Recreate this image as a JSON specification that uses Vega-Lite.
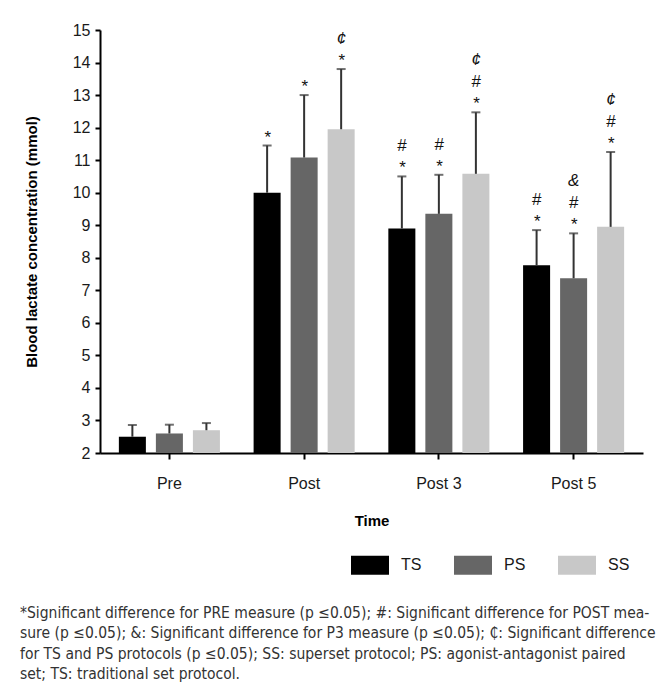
{
  "$schema": "https://vega.github.io/schema/vega-lite/v6.json",
  "autosize": "none",
  "padding": {"left": 100, "top": 30, "right": 27, "bottom": 237},
  "width": 543,
  "height": 423,
  "background": "white",
  "title": {
    "text": [
      "*Significant difference for PRE measure (p ≤0.05); #: Significant difference for POST mea-",
      "sure (p ≤0.05); &: Significant difference for P3 measure (p ≤0.05); ₵: Significant difference",
      "for TS and PS protocols (p ≤0.05); SS: superset protocol; PS: agonist-antagonist paired",
      "set; TS: traditional set protocol."
    ],
    "orient": "bottom",
    "anchor": "start",
    "frame": "group",
    "dx": -80,
    "offset": 31,
    "font": "DejaVu Sans Condensed",
    "fontSize": 15.5,
    "fontWeight": "normal",
    "color": "#333333",
    "lineHeight": 20.3,
    "align": "left"
  },
  "data": {
    "values": [
      {"time": "Pre", "group": "TS", "value": 2.5, "err": 2.86, "label": ""},
      {"time": "Pre", "group": "PS", "value": 2.6, "err": 2.87, "label": ""},
      {"time": "Pre", "group": "SS", "value": 2.7, "err": 2.92, "label": ""},
      {"time": "Post", "group": "TS", "value": 10.0, "err": 11.45, "label": "*"},
      {"time": "Post", "group": "PS", "value": 11.08, "err": 13.0, "label": "*"},
      {"time": "Post", "group": "SS", "value": 11.95, "err": 13.8, "label": "*\n¢"},
      {"time": "Post 3", "group": "TS", "value": 8.9, "err": 10.5, "label": "*\n#"},
      {"time": "Post 3", "group": "PS", "value": 9.35, "err": 10.55, "label": "*\n#"},
      {"time": "Post 3", "group": "SS", "value": 10.58, "err": 12.47, "label": "*\n#\n¢"},
      {"time": "Post 5", "group": "TS", "value": 7.77, "err": 8.85, "label": "*\n#"},
      {"time": "Post 5", "group": "PS", "value": 7.37, "err": 8.75, "label": "*\n#\n&"},
      {"time": "Post 5", "group": "SS", "value": 8.95, "err": 11.25, "label": "*\n#\n¢"}
    ]
  },
  "encoding": {
    "x": {
      "field": "time",
      "type": "nominal",
      "sort": ["Pre", "Post", "Post 3", "Post 5"],
      "scale": {"paddingInner": 0.25, "paddingOuter": 0.14},
      "axis": {
        "title": "Time",
        "labelAngle": 0,
        "labelFont": "Liberation Sans",
        "labelFontSize": 16,
        "labelColor": "#1a1a1a",
        "labelPadding": 16,
        "titleFont": "Liberation Sans",
        "titleFontSize": 15,
        "titleFontWeight": "bold",
        "titleColor": "#000000",
        "titlePadding": 22,
        "domainColor": "#000000",
        "domainWidth": 2,
        "tickColor": "#000000",
        "tickWidth": 2,
        "tickSize": 6,
        "grid": false
      }
    },
    "xOffset": {
      "field": "group",
      "type": "nominal",
      "sort": ["TS", "PS", "SS"],
      "scale": {"paddingInner": 0.27, "paddingOuter": 0}
    }
  },
  "layer": [
    {
      "mark": {"type": "bar"},
      "encoding": {
        "y": {
          "field": "value",
          "type": "quantitative",
          "scale": {"domain": [2, 15], "zero": false, "nice": false},
          "axis": {
            "title": "Blood lactate concentration (mmol)",
            "values": [2, 3, 4, 5, 6, 7, 8, 9, 10, 11, 12, 13, 14, 15],
            "labelOverlap": false,
            "labelFont": "Liberation Sans",
            "labelFontSize": 16,
            "labelColor": "#1a1a1a",
            "labelPadding": 5,
            "titleFont": "Liberation Sans",
            "titleFontSize": 15,
            "titleFontWeight": "bold",
            "titleColor": "#000000",
            "titlePadding": 33,
            "domainColor": "#000000",
            "domainWidth": 2,
            "tickColor": "#000000",
            "tickWidth": 2,
            "tickSize": 5,
            "grid": false
          }
        },
        "y2": {"datum": 2},
        "color": {
          "field": "group",
          "type": "nominal",
          "sort": ["TS", "PS", "SS"],
          "scale": {"domain": ["TS", "PS", "SS"], "range": ["#000000", "#666666", "#c8c8c8"]},
          "legend": {
            "title": null,
            "orient": "none",
            "direction": "horizontal",
            "legendX": 251,
            "legendY": 516,
            "padding": 0,
            "symbolType": "M-1,-0.5H1V0.5H-1Z",
            "symbolSize": 1444,
            "symbolStrokeWidth": 0,
            "symbolOpacity": 1,
            "labelFont": "Liberation Sans",
            "labelFontSize": 16,
            "labelColor": "#1a1a1a",
            "labelOffset": 12,
            "columnPadding": 32
          }
        }
      }
    },
    {
      "mark": {"type": "rule", "color": "#333333", "strokeWidth": 2},
      "encoding": {
        "y": {"field": "value", "type": "quantitative", "axis": null},
        "y2": {"field": "err"}
      }
    },
    {
      "mark": {"type": "tick", "color": "#333333", "thickness": 2, "size": 9, "orient": "horizontal"},
      "encoding": {
        "y": {"field": "err", "type": "quantitative", "axis": null}
      }
    },
    {
      "mark": {
        "type": "text",
        "baseline": "alphabetic",
        "align": "center",
        "lineBreak": "\n",
        "lineHeight": -22,
        "dy": -3,
        "font": "Liberation Sans",
        "fontStyle": "italic",
        "fontSize": 17,
        "color": "#111111"
      },
      "encoding": {
        "y": {"field": "err", "type": "quantitative", "axis": null},
        "text": {"field": "label"}
      }
    }
  ],
  "resolve": {"axis": {"y": "independent"}},
  "config": {"view": {"stroke": null}}
}
